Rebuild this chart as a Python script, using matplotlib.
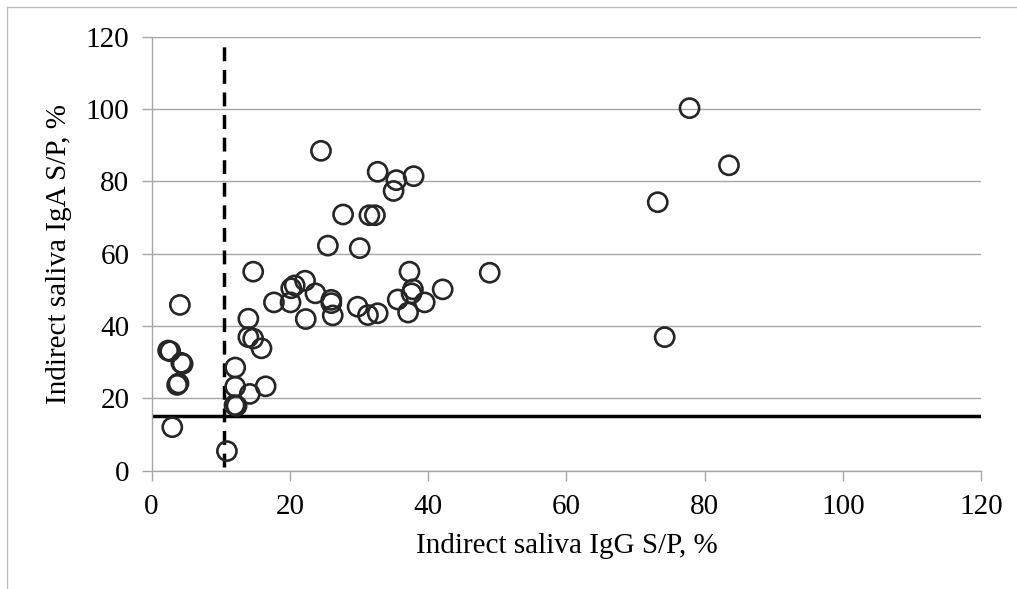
import matplotlib
matplotlib.use("Agg")
import matplotlib.pyplot as plt
from matplotlib.lines import Line2D

# Indirect saliva S/P values (%)
igg = [2.4, 2.7, 4.3, 4.5, 3.7, 3.9, 3.0, 4.1,
       10.9, 12.1, 12.1, 12.0, 12.3, 14.2, 16.5, 14.0, 14.0, 14.7, 15.9, 14.7,
       17.7, 20.1, 20.2, 20.7, 22.2, 23.7, 22.3, 26.0, 26.0, 26.2,
       29.8, 31.3, 32.7, 35.6, 37.8, 37.6, 39.5, 37.1, 37.3, 42.1, 48.9,
       24.5, 32.7, 35.4, 37.9, 35.0, 27.7, 31.5, 32.3, 25.5, 30.1,
       77.8, 83.5, 73.2, 74.2]
iga = [33.2, 33.0, 29.8, 29.5, 23.7, 24.1, 12.0, 45.8,
       5.4, 28.5, 23.2, 18.1, 17.9, 21.2, 23.3, 42.0, 36.9, 36.5, 33.8, 55.0,
       46.5, 46.5, 50.4, 51.2, 52.5, 49.0, 41.9, 47.2, 46.3, 42.9,
       45.3, 43.0, 43.5, 47.3, 50.1, 49.0, 46.5, 43.7, 55.0, 50.1, 54.7,
       88.4, 82.6, 80.3, 81.4, 77.3, 70.8, 70.6, 70.6, 62.2, 61.5,
       100.2, 84.4, 74.2, 36.9]

igg_cutoff = 10.5
iga_cutoff = 15
ticks = [0, 20, 40, 60, 80, 100, 120]

plt.rcParams['font.family'] = ['Liberation Serif', 'DejaVu Serif']

fig = plt.figure(figsize=(10.17, 5.89), dpi=100)
ax = fig.add_axes([0.149, 0.201, 0.816, 0.737])

grid_col = '#a6a6a6'
ax.set_xlim(0, 120)
ax.set_ylim(0, 120)
ax.set_xticks(ticks)
ax.set_yticks(ticks)
ax.yaxis.grid(True, color=grid_col, linewidth=1.0)
ax.set_axisbelow(True)
for s in ['top', 'right']:
    ax.spines[s].set_visible(False)
for s in ['left', 'bottom']:
    ax.spines[s].set_color(grid_col)
    ax.spines[s].set_linewidth(1.0)
ax.tick_params(axis='both', colors=grid_col, length=7, width=1.0,
               labelsize=21, labelcolor='black')
ax.tick_params(axis='x', pad=10)
ax.tick_params(axis='y', pad=9)

# cut-off lines
ax.axhline(iga_cutoff, color='black', linewidth=2.5, zorder=2)
ax.plot([igg_cutoff, igg_cutoff], [1, 118], color='black', linewidth=2.5,
        linestyle=(0, (4, 2.5)), zorder=2)

ax.scatter(igg, iga, s=190, facecolors='none', edgecolors='#262626',
           linewidths=1.9, zorder=3, clip_on=False)

ax.set_xlabel('Indirect saliva IgG S/P, %', fontsize=21, labelpad=9)
ax.set_ylabel('Indirect saliva IgA S/P, %', fontsize=21, labelpad=10)

# outer chart frame (left and top edges visible)
fig.add_artist(Line2D([0.007, 0.007], [0, 0.988], transform=fig.transFigure,
                      color='#bfbfbf', linewidth=1))
fig.add_artist(Line2D([0.007, 1], [0.988, 0.988], transform=fig.transFigure,
                      color='#bfbfbf', linewidth=1))

fig.savefig('out.png', dpi=100)
